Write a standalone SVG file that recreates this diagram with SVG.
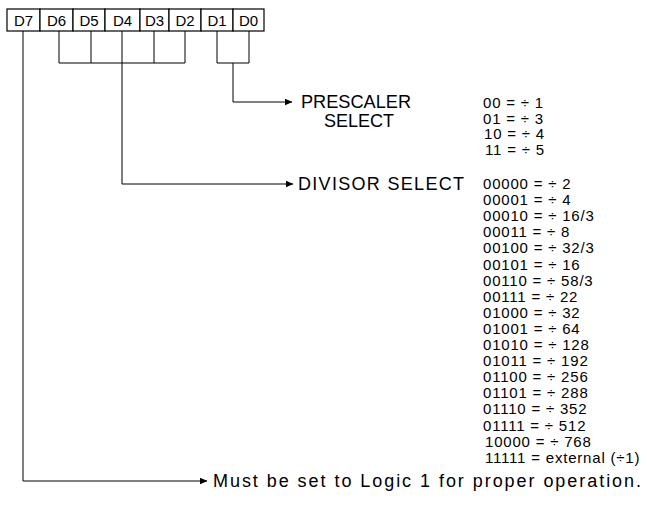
<svg xmlns="http://www.w3.org/2000/svg" width="647" height="510" viewBox="0 0 647 510">
<defs>
<marker id="arr" markerWidth="8" markerHeight="7" refX="7.5" refY="3.5" orient="auto" markerUnits="userSpaceOnUse">
<path d="M0,0 L8,3.5 L0,7 Z" fill="#000"/>
</marker>
</defs>
<style>
.box{fill:#fff;stroke:#000;stroke-width:1.2}
.bit{font-family:"Liberation Sans",Arial,sans-serif;font-size:15px;fill:#000;text-anchor:middle}
.ln{fill:none;stroke:#000;stroke-width:1}
.lbl{font-family:"Liberation Sans",Arial,sans-serif;font-size:18px;fill:#000}
.tbl{font-family:"Liberation Sans",Arial,sans-serif;font-size:15px;fill:#000;letter-spacing:0.8px}
.note{font-family:"Liberation Sans",Arial,sans-serif;font-size:18px;fill:#000}
</style>
<rect width="647" height="510" fill="#fff"/>
<g id="register">
<g id="D7"><rect class="box" x="7" y="9" width="33" height="22"/><text class="bit" x="23.5" y="26">D7</text></g>
<g id="D6"><rect class="box" x="40" y="9" width="33" height="22"/><text class="bit" x="56.5" y="26">D6</text></g>
<g id="D5"><rect class="box" x="73" y="9" width="32" height="22"/><text class="bit" x="89" y="26">D5</text></g>
<g id="D4"><rect class="box" x="105" y="9" width="35" height="22"/><text class="bit" x="122.5" y="26">D4</text></g>
<g id="D3"><rect class="box" x="140" y="9" width="29" height="22"/><text class="bit" x="154.5" y="26">D3</text></g>
<g id="D2"><rect class="box" x="169" y="9" width="32" height="22"/><text class="bit" x="185" y="26">D2</text></g>
<g id="D1"><rect class="box" x="201" y="9" width="32" height="22"/><text class="bit" x="217" y="26">D1</text></g>
<g id="D0"><rect class="box" x="233" y="9" width="31" height="22"/><text class="bit" x="248.5" y="26">D0</text></g>
</g>
<g id="connectors">
<path class="ln" d="M59,31 V63 H185 V31 M91,31 V63 M122,31 V63 M154,31 V63"/>
<path class="ln" d="M122,63 V184 H293" marker-end="url(#arr)"/>
<path class="ln" d="M217,31 V63 H249 V31"/>
<path class="ln" d="M233,63 V102 H292" marker-end="url(#arr)"/>
<path class="ln" d="M23,31 V481 H207" marker-end="url(#arr)"/>
</g>
<g id="prescaler">
<text class="lbl" x="301" y="108" textLength="110" lengthAdjust="spacingAndGlyphs">PRESCALER</text>
<text class="lbl" x="324" y="127" textLength="70" lengthAdjust="spacingAndGlyphs">SELECT</text>
<text class="tbl" x="483" y="108">00 = ÷ 1</text>
<text class="tbl" x="483" y="123.5">01 = ÷ 3</text>
<text class="tbl" x="484" y="139">10 = ÷ 4</text>
<text class="tbl" x="485" y="154.5">11 = ÷ 5</text>
</g>
<g id="divisor">
<text class="lbl" x="298" y="190" textLength="166" lengthAdjust="spacing">DIVISOR SELECT</text>
<text class="tbl" x="483" y="189">00000 = ÷ 2</text>
<text class="tbl" x="483" y="205.1">00001 = ÷ 4</text>
<text class="tbl" x="483" y="221.2">00010 = ÷ 16/3</text>
<text class="tbl" x="483" y="237.3">00011 = ÷ 8</text>
<text class="tbl" x="483" y="253.4">00100 = ÷ 32/3</text>
<text class="tbl" x="483" y="269.5">00101 = ÷ 16</text>
<text class="tbl" x="483" y="285.6">00110 = ÷ 58/3</text>
<text class="tbl" x="483" y="301.7">00111 = ÷ 22</text>
<text class="tbl" x="483" y="317.8">01000 = ÷ 32</text>
<text class="tbl" x="483" y="333.9">01001 = ÷ 64</text>
<text class="tbl" x="483" y="350">01010 = ÷ 128</text>
<text class="tbl" x="483" y="366.1">01011 = ÷ 192</text>
<text class="tbl" x="483" y="382.2">01100 = ÷ 256</text>
<text class="tbl" x="483" y="398.3">01101 = ÷ 288</text>
<text class="tbl" x="483" y="414.4">01110 = ÷ 352</text>
<text class="tbl" x="483" y="430.5">01111 = ÷ 512</text>
<text class="tbl" x="485" y="446.6">10000 = ÷ 768</text>
<text class="tbl" x="485" y="462.7">11111 = external (÷1)</text>
</g>
<g id="d7note">
<text class="note" x="213" y="487" textLength="428" lengthAdjust="spacing">Must be set to Logic 1 for proper operation.</text>
</g>
</svg>
